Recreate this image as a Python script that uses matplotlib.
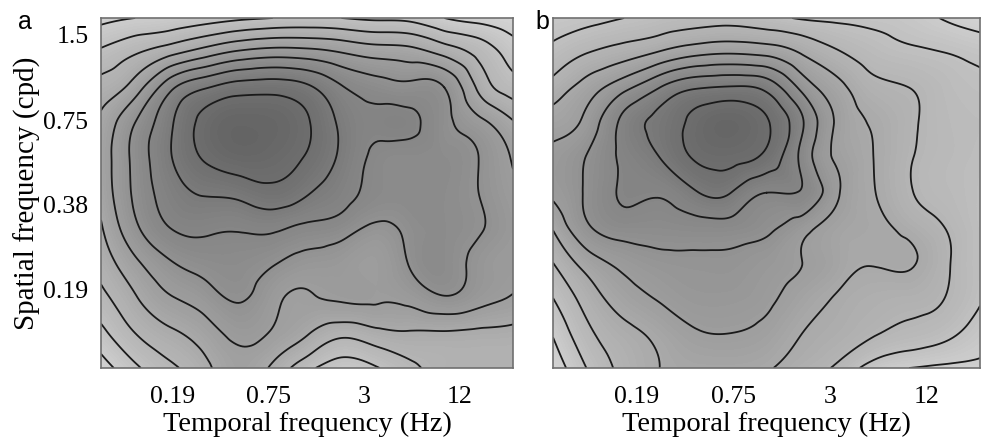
import numpy as np
import matplotlib
matplotlib.use("Agg")
import matplotlib.pyplot as plt
import matplotlib.tri as mtri
from matplotlib.colors import LinearSegmentedColormap
from matplotlib.ticker import FixedLocator, FixedFormatter, NullLocator

# ---------------- data ----------------
tf_ticks = [0.19, 0.75, 3, 12]
tf_tick_labels = ["0.19", "0.75", "3", "12"]
sf_ticks = [0.19, 0.38, 0.75, 1.5]
sf_tick_labels = ["0.19", "0.38", "0.75", "1.5"]

# sample nodes (Hz / cpd) of the sensitivity maps
tf_nodes_a = [0.0672, 0.110, 0.181, 0.298, 0.489, 0.803, 1.318, 2.165, 3.55, 5.84, 9.58, 15.7, 25.8]
tf_nodes_b = [0.0572, 0.0952, 0.158, 0.263, 0.438, 0.729, 1.213, 2.02, 3.36, 5.58, 9.29, 15.45, 25.6]
sf_nodes = [1.72, 1.30, 0.979, 0.737, 0.555, 0.418, 0.315, 0.237, 0.178, 0.134, 0.101]  # top -> bottom

# relative sensitivity (contour units), rows top -> bottom, columns low -> high TF
sens_a = [
    [1.2, 1.5, 1.7, 2.0, 2.3, 2.5, 2.6, 2.5, 2.3, 2.2, 1.5, 1.1, 0.8],
    [2.7, 3.4, 4.2, 5.0, 5.7, 6.0, 5.9, 5.5, 5.1, 4.9, 4.2, 3.2, 2.0],
    [3.9, 5.0, 7.2, 8.4, 9.0, 9.1, 8.7, 7.6, 7.0, 6.8, 6.5, 4.3, 3.0],
    [4.7, 6.5, 8.3, 9.8, 10.3, 10.2, 9.6, 8.3, 7.7, 7.7, 6.8, 5.8, 4.6],
    [4.9, 6.8, 8.4, 9.6, 10.1, 10.0, 9.4, 8.3, 7.3, 7.1, 7.0, 6.5, 5.4],
    [4.8, 6.7, 8.0, 8.6, 8.8, 9.2, 8.6, 7.9, 7.2, 7.1, 7.0, 6.5, 5.7],
    [4.4, 6.3, 7.5, 7.7, 7.6, 7.7, 7.3, 7.0, 6.3, 6.8, 7.0, 6.6, 5.9],
    [3.9, 5.3, 6.4, 6.9, 7.0, 6.6, 6.1, 5.9, 5.6, 6.6, 7.0, 6.2, 5.8],
    [3.2, 4.4, 5.4, 6.0, 6.6, 5.8, 5.4, 5.6, 5.6, 5.8, 6.4, 5.9, 5.4],
    [2.2, 3.5, 4.3, 5.0, 5.8, 5.4, 4.6, 3.8, 4.2, 4.4, 4.4, 4.3, 4.2],
    [1.0, 2.3, 3.3, 4.2, 5.2, 4.3, 2.8, 2.0, 2.4, 3.3, 3.8, 3.9, 3.9],
]
sens_b = [
    [2.0, 2.2, 2.5, 2.8, 3.0, 3.1, 2.8, 2.4, 2.3, 2.2, 2.0, 1.4, 0.9],
    [2.8, 3.5, 4.0, 4.6, 5.2, 5.4, 5.2, 4.4, 3.6, 3.0, 2.7, 2.5, 2.2],
    [3.9, 5.0, 6.2, 7.5, 8.4, 8.6, 8.2, 6.2, 4.8, 3.8, 3.5, 3.0, 2.7],
    [5.0, 5.9, 7.8, 8.8, 9.8, 10.2, 9.6, 7.6, 5.3, 4.4, 3.7, 3.1, 2.9],
    [5.8, 6.6, 7.7, 8.5, 9.6, 9.8, 9.2, 7.2, 5.3, 4.5, 3.6, 3.1, 2.8],
    [5.7, 6.7, 7.6, 7.6, 8.4, 8.5, 7.5, 7.4, 5.6, 4.55, 3.6, 3.1, 2.7],
    [4.6, 6.4, 7.0, 7.0, 7.1, 7.1, 6.7, 5.9, 5.0, 4.7, 4.2, 3.5, 2.7],
    [3.5, 5.0, 5.8, 6.2, 6.3, 6.3, 6.0, 5.5, 4.9, 4.55, 4.6, 3.7, 2.7],
    [2.5, 4.0, 5.0, 5.6, 6.0, 6.0, 5.7, 5.0, 4.4, 4.05, 3.9, 3.5, 2.6],
    [1.6, 3.3, 4.2, 4.8, 5.4, 5.5, 5.2, 4.5, 4.1, 3.6, 3.2, 2.8, 2.0],
    [0.8, 2.6, 3.8, 4.5, 4.8, 4.8, 4.6, 4.0, 3.3, 2.0, 1.5, 1.3, 1.3],
]
line_levels = [0.5, 1.5, 2.5, 3.5, 4.5, 5.5, 6.5, 7.5, 8.5, 9.5]

# ---------------- style ----------------
SERIF = ["Liberation Serif", "DejaVu Serif"]
SANS = ["Liberation Sans", "DejaVu Sans"]
cmap = LinearSegmentedColormap.from_list(
    "g", [(0.0, (0.87, 0.87, 0.87)), (0.5, (0.63, 0.63, 0.63)), (1.0, (0.39, 0.39, 0.39))])

fig = plt.figure(figsize=(9.85, 4.43), dpi=100)
fig.patch.set_facecolor("white")

ax_a = fig.add_axes([101 / 985, 75 / 443, 412 / 985, 350 / 443])
ax_b = fig.add_axes([553 / 985, 75 / 443, 427 / 985, 350 / 443])


def draw(ax, tf_nodes, sens):
    z = np.array(sens, dtype=float)[::-1]          # bottom -> top
    sf = np.array(sf_nodes)[::-1]
    lx, ly = np.meshgrid(np.log2(tf_nodes), np.log2(sf))
    tri = mtri.Triangulation(lx.ravel(), ly.ravel())
    refiner = mtri.UniformTriRefiner(tri)
    tri_r, z_r = refiner.refine_field(z.ravel(), subdiv=4)
    tri_p = mtri.Triangulation(2.0 ** tri_r.x, 2.0 ** tri_r.y, tri_r.triangles)
    ax.tricontourf(tri_p, z_r, levels=np.linspace(-1.5, 12, 90), cmap=cmap,
                   vmin=0, vmax=10.5, extend="both")
    ax.tricontour(tri_p, z_r, levels=line_levels, colors="#1a1a1a", linewidths=1.3)
    ax.set_xscale("log", base=2)
    ax.set_yscale("log", base=2)
    ax.set_xlim(tf_nodes[0], tf_nodes[-1])
    ax.set_ylim(sf_nodes[-1], sf_nodes[0])
    ax.xaxis.set_major_locator(FixedLocator(tf_ticks))
    ax.xaxis.set_major_formatter(FixedFormatter(tf_tick_labels))
    ax.xaxis.set_minor_locator(NullLocator())
    ax.yaxis.set_minor_locator(NullLocator())
    ax.tick_params(axis="both", length=0, labelsize=18.5)
    ax.tick_params(axis="x", pad=13)
    for lab in ax.get_xticklabels() + ax.get_yticklabels():
        lab.set_fontfamily(SERIF)
    for s in ax.spines.values():
        s.set_color("#707070")
        s.set_linewidth(1.2)
    ax.set_xlabel("Temporal frequency (Hz)", fontsize=20.5, family=SERIF, labelpad=3)


draw(ax_a, tf_nodes_a, sens_a)
draw(ax_b, tf_nodes_b, sens_b)

ax_a.yaxis.set_major_locator(FixedLocator(sf_ticks))
ax_a.yaxis.set_major_formatter(FixedFormatter(sf_tick_labels))
ax_a.tick_params(axis="y", pad=9)
for lab in ax_a.get_yticklabels():
    lab.set_fontfamily(SERIF)
ax_a.set_ylabel("Spatial frequency (cpd)", fontsize=21, family=SERIF, labelpad=2)
ax_b.yaxis.set_major_locator(NullLocator())

fig.text(25 / 985, 1 - 22 / 443, "a", fontsize=18, family=SANS, ha="center", va="center")
fig.text(542 / 985, 1 - 22 / 443, "b", fontsize=18, family=SANS, ha="center", va="center")

fig.savefig("out.png", dpi=100)
